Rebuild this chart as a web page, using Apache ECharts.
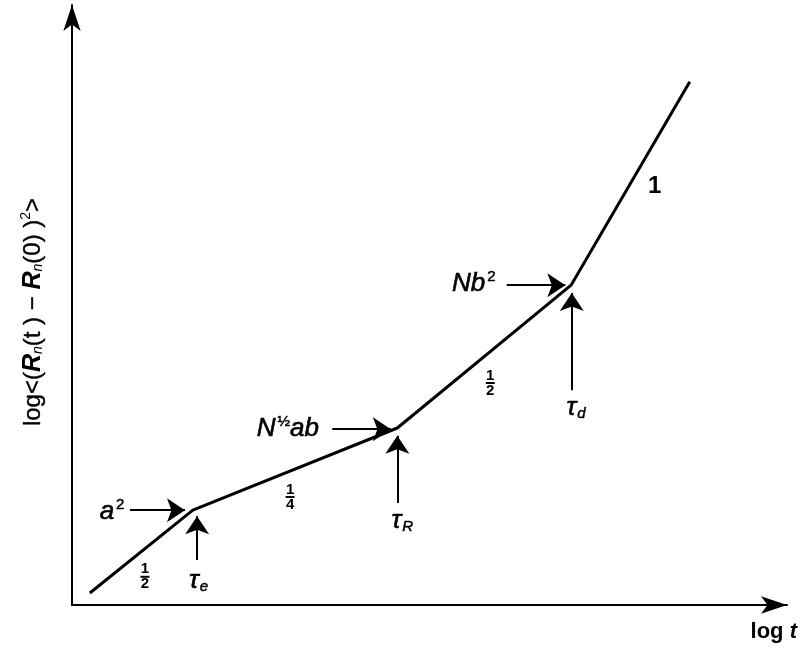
<!DOCTYPE html>
<html><head><meta charset="utf-8">
<script src="https://cdn.jsdelivr.net/npm/echarts@6/dist/echarts.min.js"></script>
<style>html,body{margin:0;padding:0;background:#fff}#c{width:801px;height:656px}</style>
</head><body><div id="c"></div>
<script>
// Polyline (log t, log MSD) in arbitrary units
const curveX = [0.25, 1.69, 4.55, 6.98, 8.64];
const curveY = [0.20, 1.58, 2.95, 5.33, 8.72];
// Annotation arrows: [x1,y1,x2,y2]
const arrows = [
  [0.81, 1.58, 1.58, 1.58],
  [1.75, 0.75, 1.75, 1.48],
  [3.64, 2.93, 4.46, 2.93],
  [4.55, 1.70, 4.55, 2.82],
  [6.08, 5.33, 6.90, 5.33],
  [6.99, 3.58, 6.99, 5.20]
];
// Text labels
const FRAC = (n, d) => '{n|' + n + '}\n{bar|}\n{n|' + d + '}';
const labelText = ['{i|a}{sup|2}', '{i|τ}{sub|e}', FRAC(1, 2), FRAC(1, 4), '{i|N}{sup|½}{i|ab}', '{i|τ}{sub|R}', FRAC(1, 2), '{i|Nb}{sup|2}', '{i|τ}{sub|d}', '{b|1}'];
const labelX = [0.56, 1.77, 1.02, 3.05, 3.02, 4.62, 5.85, 5.62, 7.05, 8.15];
const labelY = [1.55, 0.40, 0.47, 1.80, 2.93, 1.40, 3.70, 5.35, 3.28, 6.98];
const yTitle = '{t|log<(}{R|R}{s|n}{t|(t ) − }{R|R}{s|n}{t|(0) )}{p|2}{t|>}';
const xTitle = '{l|log }{t|t}';

const FONT = 'Liberation Sans, Arial, sans-serif';
const rich = {
  i: {fontSize: 26, fontStyle: 'italic', fontFamily: FONT, color: '#000', textBorderColor: '#000', textBorderWidth: 0.6},
  sup: {fontSize: 15, fontFamily: FONT, color: '#000', padding: [0, 0, 14, 2], textBorderColor: '#000', textBorderWidth: 0.5},
  sub: {fontSize: 15, fontStyle: 'italic', fontFamily: FONT, color: '#000', padding: [12, 0, 0, 1], textBorderColor: '#000', textBorderWidth: 0.5},
  n: {fontSize: 15, fontWeight: 'bold', fontFamily: FONT, color: '#000', lineHeight: 12, align: 'center'},
  bar: {width: 9, height: 2, backgroundColor: '#000', lineHeight: 3, align: 'center'},
  b: {fontSize: 24, fontWeight: 'bold', fontFamily: FONT, color: '#000'}
};

const chart = echarts.init(document.getElementById('c'));
chart.setOption({
  animation: false,
  grid: {left: 72, right: 14, top: 5, bottom: 51},
  xAxis: {
    type: 'value', min: 0, max: 10,
    axisLine: {show: true, onZero: false, lineStyle: {color: '#000', width: 2}, symbol: ['none', 'arrow'], symbolSize: [13, 26]},
    axisTick: {show: false}, axisLabel: {show: false}, splitLine: {show: false}
  },
  yAxis: {
    type: 'value', min: 0, max: 10,
    axisLine: {show: true, onZero: false, lineStyle: {color: '#000', width: 2}, symbol: ['none', 'arrow'], symbolSize: [13, 26]},
    axisTick: {show: false}, axisLabel: {show: false}, splitLine: {show: false}
  },
  series: [
    {
      type: 'line', data: curveX.map((x, i) => [x, curveY[i]]),
      symbol: 'none', lineStyle: {color: '#000', width: 3}, z: 3
    },
    {
      type: 'lines', coordinateSystem: 'cartesian2d',
      data: arrows.map(a => ({coords: [[a[0], a[1]], [a[2], a[3]]]})),
      symbol: ['none', 'arrow'], symbolSize: [9, 18],
      lineStyle: {color: '#000', width: 2, opacity: 1}
    },
    {
      type: 'scatter', symbolSize: 0, itemStyle: {opacity: 1},
      data: labelX.map((x, i) => ({value: [x, labelY[i]], label: {formatter: labelText[i]}})),
      label: {show: true, position: 'inside', rich: rich, color: '#000', opacity: 1}
    }
  ],
  graphic: [
    {
      type: 'text', x: 33, y: 312, rotation: Math.PI / 2,
      style: {text: yTitle, align: 'center', verticalAlign: 'middle', rich: {
        t: {fontSize: 24, fontFamily: FONT, fill: '#000', stroke: '#000', lineWidth: 0.4},
        R: {fontSize: 25, fontFamily: FONT, fontWeight: 'bold', fontStyle: 'italic', fill: '#000'},
        s: {fontSize: 14, fontFamily: FONT, fontStyle: 'italic', fill: '#000', padding: [11, 0, 0, 0]},
        p: {fontSize: 14, fontFamily: FONT, fill: '#000', padding: [0, 0, 13, 0]}
      }}
    },
    {
      type: 'text', right: 4, top: 621,
      style: {text: xTitle, rich: {
        l: {fontSize: 22, fontFamily: FONT, fontWeight: 'bold', fill: '#000'},
        t: {fontSize: 22, fontFamily: FONT, fontWeight: 'bold', fontStyle: 'italic', fill: '#000'}
      }}
    }
  ]
});
</script></body></html>
